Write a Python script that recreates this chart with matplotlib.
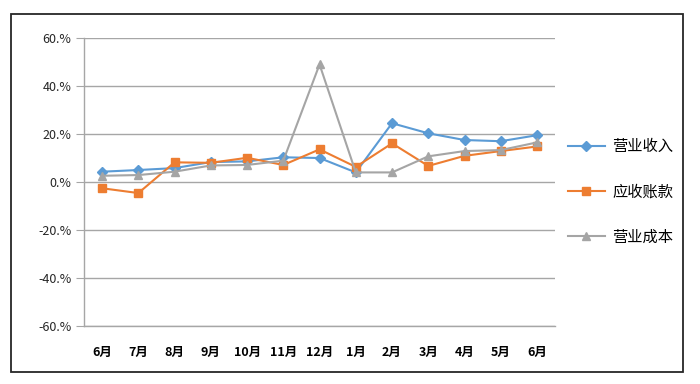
import matplotlib.pyplot as plt
from matplotlib.patches import Rectangle
from matplotlib.ticker import FixedLocator, FuncFormatter

plt.rcParams['font.family'] = ['Noto Sans CJK SC', 'DejaVu Sans']

# Months
months = ['6月', '7月', '8月', '9月', '10月', '11月', '12月', '1月', '2月', '3月', '4月', '5月', '6月']

# Growth rates (%)
revenue = [4.3, 5.0, 5.8, 8.3, 8.6, 10.3, 10.0, 4.0, 24.5, 20.3, 17.5, 17.0, 19.5]
receivables = [-2.6, -4.6, 8.2, 8.0, 10.1, 7.1, 13.6, 6.3, 16.1, 6.7, 10.9, 12.9, 14.8]
cost = [2.6, 2.9, 4.3, 6.9, 7.1, 8.9, 49.0, 4.0, 4.0, 10.7, 12.9, 13.3, 16.5]

series_names = ['营业收入', '应收账款', '营业成本']

fig = plt.figure(figsize=(7, 3.84), dpi=100)
ax = fig.add_axes([0.12, 0.151, 0.673, 0.75])

x = range(len(months))
ax.plot(x, revenue, color='#5B9BD5', marker='D', markersize=5, linewidth=1.5, label=series_names[0])
ax.plot(x, receivables, color='#ED7D31', marker='s', markersize=6, linewidth=1.5, label=series_names[1])
ax.plot(x, cost, color='#A5A5A5', marker='^', markersize=6, linewidth=1.5, label=series_names[2])

ax.set_xlim(-0.5, len(months) - 0.5)
ax.set_ylim(-60, 60)
ax.yaxis.set_major_locator(FixedLocator(range(-60, 61, 20)))
ax.yaxis.set_major_formatter(FuncFormatter(lambda v, p: f'{int(v)}.%'))
ax.grid(axis='y', color='#a6a6a6', linewidth=1)
ax.set_axisbelow(True)

ax.set_xticks(list(x))
ax.set_xticklabels(months, fontsize=9, fontweight='bold')
ax.tick_params(axis='x', length=0, pad=14)
ax.tick_params(axis='y', length=6, color='#a6a6a6', labelsize=9, labelcolor='#262626', pad=3)

for s in ['top', 'right']:
    ax.spines[s].set_visible(False)
for s in ['left', 'bottom']:
    ax.spines[s].set_color('#a6a6a6')
    ax.spines[s].set_linewidth(1)

ax.legend(loc='center left', bbox_to_anchor=(0.792, 0.50), bbox_transform=fig.transFigure,
          frameon=False, fontsize=11, labelspacing=1.85, handlelength=2.4, handletextpad=0.5)

# outer chart border
fig.patches.append(Rectangle((11 / 700, 1 - 372 / 384), 672 / 700, 358 / 384,
                             transform=fig.transFigure, fill=False, edgecolor='#262626', linewidth=1.3))

fig.savefig('out.png', dpi=100)
